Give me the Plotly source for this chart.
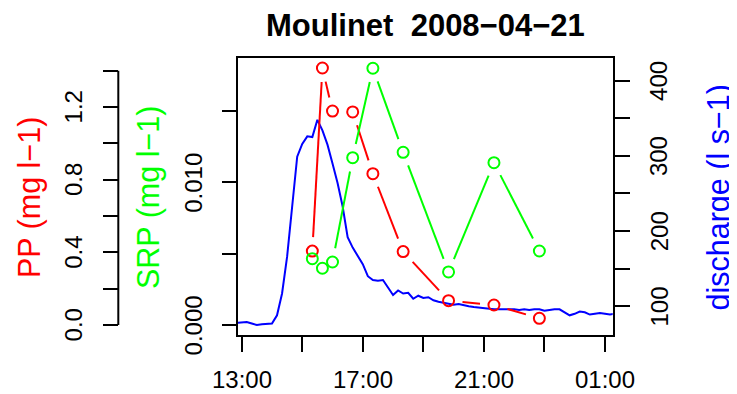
import math
from datetime import datetime, timedelta
import plotly.graph_objects as go

# ---------------- data ----------------
TITLE = "Moulinet  2008\u221204\u221221"
sample_times = ["15:20", "15:40", "16:00", "16:40", "17:20", "18:20", "19:50", "21:20", "22:50"]
pp_values = [0.407, 1.415, 1.178, 1.173, 0.833, 0.404, 0.134, 0.110, 0.037]
srp_values = [0.00465, 0.00398, 0.00442, 0.01173, 0.0180, 0.01211, 0.00372, 0.01138, 0.00519]

q_start = "12:50"
q_step_min = 10
discharge_values = [
    78, 78, 79, 77, 75, 76, 77, 77, 88, 117, 166, 228, 299, 316, 326, 325, 348, 334,
    315, 290, 264, 233, 192, 178, 167, 156, 140, 135, 134, 135, 125, 115, 121, 117,
    118, 110, 114, 111, 112, 108, 106, 105, 104, 102, 103, 101, 100, 99, 98, 97, 97,
    96, 96, 96, 96, 96, 95, 96, 95, 96, 96, 94, 95, 96, 96, 92, 88, 90, 93, 92, 89,
    90, 91, 90, 89, 90,
]

x_tick_times = ["13:00", "15:00", "17:00", "19:00", "21:00", "23:00", "01:00"]
x_tick_text = ["13:00", "", "17:00", "", "21:00", "", "01:00"]
pp_ticks = [0.0, 0.2, 0.4, 0.6, 0.8, 1.0, 1.2, 1.4]
pp_tick_text = ["0.0", "", "0.4", "", "0.8", "", "1.2", ""]
srp_ticks = [0.0, 0.005, 0.010, 0.015]
srp_tick_text = ["0.000", "", "0.010", ""]
q_ticks = [100, 150, 200, 250, 300, 350, 400]
q_tick_text = ["100", "", "200", "", "300", "", "400"]

# ---------------- layout geometry (screen pixels) ----------------
W, H = 737, 394
OFF = 8  # page body margin of the browser
BOX_L, BOX_R, BOX_T, BOX_B = 238 - OFF, 612.7 - OFF, 58 - OFF, 335.3 - OFF
PP_AXIS_X = 118.3 - OFF
PP_LABEL_X, SRP_LABEL_X, Q_LABEL_X = 73.4 - OFF, 193.4 - OFF, 659.2 - OFF
X_LABEL_Y = 379.5 - OFF
TITLE_Y = 25.6 - OFF

X_RANGE = ("2008-04-21 12:52:40", "2008-04-22 01:15:21")
PP_RANGE = [-0.0567, 1.470]
SRP_RANGE = [-0.00072, 0.01872]
Q_RANGE = [61.4, 430.2]

RED, GREEN, BLUE = "#FF0000", "#00FF00", "#0000FF"
FONT = "Liberation Sans, Arial, sans-serif"
TICK_SIZE = 24
LAB_SIZE = 30.5
TITLE_SIZE = 31


def to_dt(hhmm):
    h, m = map(int, hhmm.split(":"))
    d = datetime(2008, 4, 21, h, m)
    if h < 12:
        d += timedelta(days=1)
    return d


t_samples = [to_dt(s) for s in sample_times]
t0 = to_dt(q_start)
t_q = [t0 + timedelta(minutes=q_step_min * i) for i in range(len(discharge_values))]

xr0, xr1 = (datetime.fromisoformat(s) for s in X_RANGE)
px_per_hour = (BOX_R - BOX_L) / ((xr1 - xr0).total_seconds() / 3600)
plot_h = BOX_B - BOX_T


def gapped(times, vals, yrange, gap=14):
    """Line segments of an R type='b' plot: shortened near each point."""
    ppu = plot_h / (yrange[1] - yrange[0])
    xs, ys = [], []
    for i in range(len(times) - 1):
        dh = (times[i + 1] - times[i]).total_seconds() / 3600
        dv = vals[i + 1] - vals[i]
        L = math.hypot(dh * px_per_hour, dv * ppu)
        if L <= 2 * gap:
            continue
        f = gap / L
        xs += [times[i] + (times[i + 1] - times[i]) * f,
               times[i + 1] - (times[i + 1] - times[i]) * f, None]
        ys += [vals[i] + dv * f, vals[i + 1] - dv * f, None]
    return xs, ys


fig = go.Figure()

# discharge (base axis, drawn first)
fig.add_trace(go.Scatter(x=t_q, y=discharge_values, mode="lines",
                         line=dict(color=BLUE, width=2), yaxis="y", showlegend=False))

# PP
gx, gy = gapped(t_samples, pp_values, PP_RANGE)
fig.add_trace(go.Scatter(x=gx, y=gy, mode="lines", line=dict(color=RED, width=2),
                         yaxis="y2", showlegend=False, connectgaps=False))
fig.add_trace(go.Scatter(x=t_samples, y=pp_values, mode="markers", yaxis="y2",
                         marker=dict(symbol="circle-open", size=11, color=RED,
                                     line=dict(width=2, color=RED)), showlegend=False))
# SRP
gx, gy = gapped(t_samples, srp_values, SRP_RANGE)
fig.add_trace(go.Scatter(x=gx, y=gy, mode="lines", line=dict(color=GREEN, width=2),
                         yaxis="y3", showlegend=False, connectgaps=False))
fig.add_trace(go.Scatter(x=t_samples, y=srp_values, mode="markers", yaxis="y3",
                         marker=dict(symbol="circle-open", size=11, color=GREEN,
                                     line=dict(width=2, color=GREEN)), showlegend=False))

xdom = [BOX_L / W, BOX_R / W]
ydom = [1 - BOX_B / H, 1 - BOX_T / H]
tick_common = dict(ticks="outside", ticklen=15, tickwidth=2, tickcolor="black",
                   showgrid=False, zeroline=False, showticklabels=False)

fig.update_layout(
    width=W, height=H,
    margin=dict(l=0, r=0, t=0, b=0, autoexpand=False),
    paper_bgcolor="white", plot_bgcolor="white",
    showlegend=False,
    xaxis=dict(domain=xdom, type="date", range=list(X_RANGE),
               tickvals=[to_dt(s) for s in x_tick_times],
               showline=True, mirror=True, linecolor="black", linewidth=2,
               anchor="y", **tick_common),
    yaxis=dict(domain=ydom, range=Q_RANGE, side="right", anchor="x",
               tickvals=q_ticks,
               showline=True, mirror=True, linecolor="black", linewidth=2,
               **tick_common),
    yaxis2=dict(range=PP_RANGE, overlaying="y", anchor="free", side="left",
                position=PP_AXIS_X / W, tickvals=pp_ticks, showline=False,
                **tick_common),
    yaxis3=dict(range=SRP_RANGE, overlaying="y", anchor="x", side="left",
                tickvals=srp_ticks, showline=False, **tick_common),
)

# PP axis line (from first to last tick, as in R)
fig.add_shape(type="line", xref="paper", yref="y2",
              x0=PP_AXIS_X / W, x1=PP_AXIS_X / W, y0=pp_ticks[0], y1=pp_ticks[-1],
              line=dict(color="black", width=2))


def text(t, x, y, color, size, angle=0, bold=False, xref="paper", yref="paper"):
    fig.add_annotation(text=f"<b>{t}</b>" if bold else t,
                       xref=xref, yref=yref, x=x, y=y,
                       xanchor="center", yanchor="middle", showarrow=False,
                       textangle=angle, borderpad=0,
                       font=dict(family=FONT, size=size, color=color))


# tick labels
for tt, lab in zip(x_tick_times, x_tick_text):
    if lab:
        text(lab, to_dt(tt), 1 - X_LABEL_Y / H, "black", TICK_SIZE, xref="x")
for v, lab in zip(pp_ticks, pp_tick_text):
    if lab:
        text(lab, PP_LABEL_X / W, v, "black", TICK_SIZE, angle=-90, yref="y2")
for v, lab in zip(srp_ticks, srp_tick_text):
    if lab:
        text(lab, SRP_LABEL_X / W, v, "black", TICK_SIZE, angle=-90, yref="y3")
for v, lab in zip(q_ticks, q_tick_text):
    if lab:
        text(lab, Q_LABEL_X / W, v, "black", TICK_SIZE, angle=-90, yref="y")

# title and axis titles
text(TITLE, (425 - OFF) / W, 1 - TITLE_Y / H, "black", TITLE_SIZE, bold=True)
text("PP (mg l\u22121)", (29 - OFF) / W, 1 - (198 - OFF) / H, RED, LAB_SIZE, angle=-90)
text("SRP (mg l\u22121)", (148 - OFF) / W, 1 - (198 - OFF) / H, GREEN, LAB_SIZE, angle=-90)
text("discharge (l s\u22121)", (718 - OFF) / W, 1 - (197.5 - OFF) / H, BLUE, LAB_SIZE, angle=-90)

fig.write_html("out.html")
